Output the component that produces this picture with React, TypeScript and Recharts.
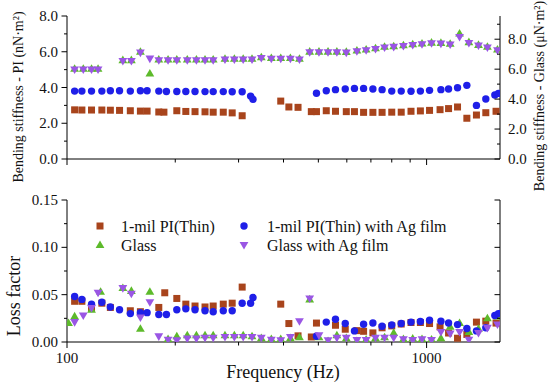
import React from "react";
import { ScatterChart, Scatter, XAxis, YAxis, Legend } from "recharts";

const SERIF = "'Liberation Serif', 'Times New Roman', Times, serif";

const C_PI = "#a8441c";
const C_PI_AG = "#1f1fe8";
const C_GLASS = "#5dba2b";
const C_GLASS_AG = "#9a56e4";

// axis ticks
const freqTicks = [100, 200, 300, 400, 500, 600, 700, 800, 900, 1000];
const piStiffTicks = [0, 1, 2, 3, 4, 5, 6, 7, 8];
const glassStiffTicks = [0, 1, 2, 3, 4, 5, 6, 7, 8, 9];
const lossTicks = [0, 0.025, 0.05, 0.075, 0.1, 0.125, 0.15];

// 1-mil PI(Thin)
const piStiffFreq = [105, 110, 117, 125, 132, 140, 150, 160, 167, 180, 186, 202, 214, 227, 242, 255, 272, 288, 307, 393, 414, 439, 478, 494, 526, 558, 598, 630, 668, 709, 752, 800, 850, 905, 961, 1019, 1090, 1151, 1219, 1294, 1376, 1461, 1560];
const piStiff = [2.75, 2.74, 2.74, 2.74, 2.73, 2.72, 2.70, 2.68, 2.68, 2.63, 2.62, 2.70, 2.66, 2.65, 2.64, 2.62, 2.62, 2.58, 2.42, 3.24, 2.91, 2.89, 2.65, 2.65, 2.70, 2.67, 2.65, 2.65, 2.61, 2.61, 2.61, 2.62, 2.62, 2.67, 2.69, 2.72, 2.76, 2.82, 2.91, 2.28, 2.46, 2.59, 2.67];
const piLossFreq = [105, 110, 117, 125, 132, 150, 160, 180, 187, 202, 214, 227, 242, 255, 272, 288, 307, 393, 414, 439, 478, 494, 558, 594, 640, 668, 709, 752, 800, 850, 905, 961, 1019, 1090, 1151, 1219, 1294, 1376, 1461, 1560];
const piLoss = [0.043, 0.043, 0.036, 0.041, 0.0365, 0.033, 0.032, 0.0365, 0.052, 0.046, 0.040, 0.038, 0.037, 0.038, 0.040, 0.041, 0.058, 0.040, 0.0195, 0.0065, 0.0053, 0.020, 0.0177, 0.0135, 0.012, 0.0113, 0.0096, 0.015, 0.017, 0.019, 0.0206, 0.0206, 0.0195, 0.016, 0.0095, 0.004, 0.008, 0.021, 0.022, 0.020];

// 1-mil PI(Thin) with Ag film
const piAgFreq = [105, 110, 117, 125, 132, 140, 150, 160, 167, 180, 189, 202, 214, 227, 242, 255, 272, 288, 307, 324, 329, 494, 526, 558, 594, 630, 668, 709, 752, 800, 850, 905, 961, 1019, 1096, 1151, 1219, 1294, 1376, 1461, 1548, 1584];
const piAgStiff = [3.80, 3.80, 3.80, 3.80, 3.82, 3.82, 3.80, 3.82, 3.82, 3.80, 3.78, 3.78, 3.78, 3.78, 3.77, 3.77, 3.77, 3.76, 3.76, 3.52, 3.34, 3.68, 3.82, 3.88, 3.92, 3.95, 3.95, 3.92, 3.88, 3.80, 3.80, 3.79, 3.80, 3.84, 3.88, 3.92, 3.99, 4.12, 3.00, 3.36, 3.58, 3.67];
const piAgLoss = [0.048, 0.045, 0.040, 0.042, 0.037, 0.034, 0.030, 0.031, 0.031, 0.029, 0.029, 0.034, 0.035, 0.034, 0.033, 0.032, 0.033, 0.033, 0.041, 0.041, 0.047, 0.006, 0.021, 0.024, 0.0195, 0.0117, 0.0188, 0.020, 0.0167, 0.018, 0.0195, 0.021, 0.0216, 0.023, 0.022, 0.020, 0.0184, 0.0142, 0.0117, 0.015, 0.028, 0.030];

// Glass and Glass with Ag film
const glassFreq = [105, 111, 117, 122, 143, 151, 160, 170, 180, 191, 202, 216, 229, 242, 255, 275, 292, 309, 327, 347, 370, 393, 418, 443, 473, 502, 532, 563, 598, 640, 679, 721, 764, 810, 862, 915, 971, 1032, 1096, 1163, 1235, 1311, 1394, 1476, 1574];
const glassStiff = [6.02, 6.02, 6.02, 6.02, 6.60, 6.60, 7.16, 5.71, 6.64, 6.64, 6.64, 6.64, 6.64, 6.64, 6.64, 6.69, 6.69, 6.69, 6.69, 6.79, 6.74, 6.74, 6.74, 6.69, 7.17, 7.17, 7.17, 7.17, 7.15, 7.24, 7.31, 7.39, 7.49, 7.53, 7.59, 7.66, 7.71, 7.77, 7.75, 7.69, 8.38, 7.80, 7.62, 7.49, 7.31];
const glassAgStiff = [5.98, 5.98, 5.98, 5.98, 6.55, 6.55, 7.11, 6.71, 6.60, 6.60, 6.60, 6.60, 6.60, 6.60, 6.60, 6.65, 6.65, 6.65, 6.65, 6.75, 6.70, 6.70, 6.70, 6.65, 7.13, 7.13, 7.13, 7.13, 7.11, 7.20, 7.27, 7.35, 7.45, 7.49, 7.55, 7.62, 7.67, 7.73, 7.71, 7.65, 8.15, 7.75, 7.58, 7.45, 7.27];
const glassAgLoss = [0.021, 0.028, 0.036, 0.052, 0.057, 0.051, 0.026, 0.042, 0.006, 0.0025, 0.0018, 0.0036, 0.0036, 0.0045, 0.0045, 0.0053, 0.0053, 0.0053, 0.0053, 0.0045, 0.0025, 0.0018, 0.0053, 0.022, 0.046, 0.007, 0.0018, 0.0045, 0.0046, 0.002, 0.002, 0.0046, 0.0046, 0.0046, 0.003, 0.002, 0.003, 0.002, 0.0106, 0.0089, 0.0106, 0.0025, 0.0096, 0.015, 0.0185];
const glassLossFreq = [101, 105, 117, 124, 143, 151, 160, 170, 191, 202, 216, 229, 242, 255, 275, 292, 309, 327, 347, 370, 393, 418, 443, 473, 502, 532, 563, 598, 640, 679, 721, 764, 810, 862, 915, 971, 1032, 1096, 1163, 1235, 1311, 1394, 1476, 1574];
const glassLoss = [0.020, 0.027, 0.034, 0.053, 0.057, 0.054, 0.014, 0.053, 0.003, 0.006, 0.007, 0.007, 0.007, 0.007, 0.007, 0.007, 0.007, 0.006, 0.004, 0.003, 0.003, 0.004, 0.005, 0.045, 0.005, 0.001, 0.007, 0.004, 0.001, 0.0025, 0.004, 0.005, 0.0096, 0.003, 0.0036, 0.003, 0.0025, 0.004, 0.016, 0.020, 0.0106, 0.014, 0.025, 0.027];

const pts = (f: number[], v: number[]) => f.map((x, i) => ({ f: x, v: v[i] }));

const square = (color: string) => (p: any) =>
  p.cx == null ? <g /> : <rect x={p.cx - 3.5} y={p.cy - 3.5} width={7} height={7} fill={color} />;
const circle = (color: string) => (p: any) =>
  p.cx == null ? <g /> : <circle cx={p.cx} cy={p.cy} r={3.7} fill={color} />;
const triUp = (color: string) => (p: any) =>
  p.cx == null ? <g /> : (
    <polygon points={`${p.cx},${p.cy - 4.6} ${p.cx - 4.4},${p.cy + 3} ${p.cx + 4.4},${p.cy + 3}`} fill={color} />
  );
const triDown = (color: string) => (p: any) =>
  p.cx == null ? <g /> : (
    <polygon points={`${p.cx},${p.cy + 4.6} ${p.cx - 4.4},${p.cy - 3} ${p.cx + 4.4},${p.cy - 3}`} fill={color} />
  );

function XTick(props: any) {
  const { x, y, payload, dir, label } = props;
  const major = payload.value === 100 || payload.value === 1000;
  const len = major ? 6 : 3.5;
  return (
    <g>
      <line x1={x} x2={x} y1={y} y2={y + dir * len} stroke="#000" strokeWidth={1} />
      {label && major && (
        <text x={x} y={y + 21} textAnchor="middle" fontFamily={SERIF} fontSize={15} fill="#111">
          {payload.value}
        </text>
      )}
    </g>
  );
}

function YTick(props: any) {
  const { x, y, payload, index, side, inward, digits } = props;
  const major = index % 2 === 0;
  const len = major ? 5.5 : 3;
  const d = side === "left" ? (inward ? 1 : -1) : inward ? -1 : 1;
  return (
    <g>
      <line x1={x} x2={x + d * len} y1={y} y2={y} stroke="#000" strokeWidth={1} />
      {digits != null && major && (
        <text
          x={side === "left" ? x - 9 : x + 8}
          y={y + 5}
          textAnchor={side === "left" ? "end" : "start"}
          fontFamily={SERIF}
          fontSize={15}
          fill="#111"
        >
          {payload.value.toFixed(digits)}
        </text>
      )}
    </g>
  );
}

const legendItems = [
  { name: "1-mil PI(Thin)", shape: "square", color: C_PI, mx: 100, tx: 121, row: 0 },
  { name: "1-mil PI(Thin) with Ag film", shape: "circle", color: C_PI_AG, mx: 244, tx: 267, row: 0 },
  { name: "Glass", shape: "up", color: C_GLASS, mx: 100, tx: 121, row: 1 },
  { name: "Glass with Ag film", shape: "down", color: C_GLASS_AG, mx: 244, tx: 267, row: 1 },
];

function LegendMarker({ shape, color }: { shape: string; color: string }) {
  return (
    <svg width={12} height={12} style={{ position: "absolute", left: -6, top: -6 }}>
      {shape === "square" && <rect x={2.5} y={2.5} width={7} height={7} fill={color} />}
      {shape === "circle" && <circle cx={6} cy={6} r={3.7} fill={color} />}
      {shape === "up" && <polygon points="6,1.4 1.6,9 10.4,9" fill={color} />}
      {shape === "down" && <polygon points="6,10.6 1.6,3 10.4,3" fill={color} />}
    </svg>
  );
}

function renderLegend() {
  return (
    <div style={{ position: "relative", width: 550, height: 1 }}>
      {legendItems.map((it) => {
        const cy = it.row === 0 ? 226 : 245;
        return (
          <React.Fragment key={it.name}>
            <div style={{ position: "absolute", left: it.mx, top: cy }}>
              <LegendMarker shape={it.shape} color={it.color} />
            </div>
            <div
              style={{
                position: "absolute",
                left: it.tx,
                top: cy - 7,
                fontFamily: SERIF,
                fontSize: 16,
                lineHeight: "16px",
                color: "#111",
                whiteSpace: "nowrap",
              }}
            >
              {it.name}
            </div>
          </React.Fragment>
        );
      })}
    </div>
  );
}

const titleBase: React.CSSProperties = {
  position: "absolute",
  fontFamily: SERIF,
  color: "#111",
  whiteSpace: "nowrap",
  lineHeight: 1,
};

export default function App() {
  const xDomain: [number, number] = [100, 1600];
  return (
    <div style={{ position: "absolute", left: 0, top: 0, width: 550, height: 390, background: "#fff", overflow: "hidden" }}>
      {/* top panel: bending stiffness */}
      <div style={{ position: "absolute", left: 0, top: 0 }}>
        <ScatterChart width={550} height={390} margin={{ top: 16, right: 0, bottom: 221, left: 0 }}>
          <XAxis
            xAxisId="b"
            dataKey="f"
            type="number"
            scale="log"
            domain={xDomain}
            allowDataOverflow
            ticks={freqTicks}
            interval={0}
            height={10}
            tickSize={0}
            tickMargin={0}
            tickLine={false}
            axisLine={{ stroke: "#000" }}
            tick={(p: any) => <XTick {...p} dir={1} label={false} />}
          />
          <XAxis
            xAxisId="t"
            orientation="top"
            type="number"
            scale="log"
            domain={xDomain}
            allowDataOverflow
            ticks={freqTicks}
            interval={0}
            height={0}
            tickSize={0}
            tickMargin={0}
            tickLine={false}
            axisLine={{ stroke: "#000" }}
            tick={(p: any) => <XTick {...p} dir={1} label={false} />}
          />
          <YAxis
            yAxisId="l"
            dataKey="v"
            type="number"
            domain={[0, 8]}
            allowDataOverflow
            ticks={piStiffTicks}
            interval={0}
            width={67}
            tickSize={0}
            tickMargin={0}
            tickLine={false}
            axisLine={{ stroke: "#000" }}
            tick={(p: any) => <YTick {...p} side="left" inward={false} digits={1} />}
          />
          <YAxis
            yAxisId="r"
            orientation="right"
            dataKey="v"
            type="number"
            domain={[0, 9.55]}
            allowDataOverflow
            ticks={glassStiffTicks}
            interval={0}
            width={50}
            tickSize={0}
            tickMargin={0}
            tickLine={false}
            axisLine={{ stroke: "#000" }}
            tick={(p: any) => <YTick {...p} side="right" inward digits={1} />}
          />
          <Scatter data={pts(piStiffFreq, piStiff)} xAxisId="b" yAxisId="l" shape={square(C_PI)} isAnimationActive={false} />
          <Scatter data={pts(glassFreq, glassStiff)} xAxisId="b" yAxisId="r" shape={triUp(C_GLASS)} isAnimationActive={false} />
          <Scatter data={pts(piAgFreq, piAgStiff)} xAxisId="b" yAxisId="l" shape={circle(C_PI_AG)} isAnimationActive={false} />
          <Scatter data={pts(glassFreq, glassAgStiff)} xAxisId="b" yAxisId="r" shape={triDown(C_GLASS_AG)} isAnimationActive={false} />
        </ScatterChart>
      </div>

      {/* bottom panel: loss factor */}
      <div style={{ position: "absolute", left: 0, top: 0 }}>
        <ScatterChart width={550} height={390} margin={{ top: 200, right: 0, bottom: 18, left: 0 }}>
          <XAxis
            xAxisId="b"
            dataKey="f"
            type="number"
            scale="log"
            domain={xDomain}
            allowDataOverflow
            ticks={freqTicks}
            interval={0}
            height={30}
            tickSize={0}
            tickMargin={0}
            tickLine={false}
            axisLine={{ stroke: "#000" }}
            tick={(p: any) => <XTick {...p} dir={1} label />}
          />
          <XAxis
            xAxisId="t"
            orientation="top"
            type="number"
            scale="log"
            domain={xDomain}
            allowDataOverflow
            height={0}
            tick={false}
            tickLine={false}
            axisLine={{ stroke: "#000" }}
          />
          <YAxis
            yAxisId="l"
            dataKey="v"
            type="number"
            domain={[0, 0.15]}
            allowDataOverflow
            ticks={lossTicks}
            interval={0}
            width={67}
            tickSize={0}
            tickMargin={0}
            tickLine={false}
            axisLine={{ stroke: "#000" }}
            tick={(p: any) => <YTick {...p} side="left" inward={false} digits={2} />}
          />
          <YAxis
            yAxisId="r"
            orientation="right"
            type="number"
            domain={[0, 0.15]}
            allowDataOverflow
            ticks={lossTicks}
            interval={0}
            width={50}
            tickSize={0}
            tickMargin={0}
            tickLine={false}
            axisLine={{ stroke: "#000" }}
            tick={(p: any) => <YTick {...p} side="right" inward />}
          />
          <Legend
            layout="horizontal"
            verticalAlign="middle"
            align="center"
            wrapperStyle={{ left: 0, top: 0, width: 550 }}
            content={renderLegend}
          />
          <Scatter data={pts(piLossFreq, piLoss)} xAxisId="b" yAxisId="l" shape={square(C_PI)} isAnimationActive={false} />
          <Scatter data={pts(glassLossFreq, glassLoss)} xAxisId="b" yAxisId="l" shape={triUp(C_GLASS)} isAnimationActive={false} />
          <Scatter data={pts(piAgFreq, piAgLoss)} xAxisId="b" yAxisId="l" shape={circle(C_PI_AG)} isAnimationActive={false} />
          <Scatter data={pts(glassFreq, glassAgLoss)} xAxisId="b" yAxisId="l" shape={triDown(C_GLASS_AG)} isAnimationActive={false} />
        </ScatterChart>
      </div>

      {/* axis titles */}
      <div style={{ ...titleBase, left: 19, top: 97, fontSize: 14, transform: "translate(-50%, -50%) rotate(-90deg)" }}>
        Bending stiffness - PI (nN·m²)
      </div>
      <div style={{ ...titleBase, left: 540, top: 96, fontSize: 14, transform: "translate(-50%, -50%) rotate(-90deg)" }}>
        Bending stiffness - Glass (μN·m²)
      </div>
      <div style={{ ...titleBase, left: 14, top: 296, fontSize: 18, transform: "translate(-50%, -50%) rotate(-90deg)" }}>
        Loss factor
      </div>
      <div style={{ ...titleBase, left: 283, top: 363, fontSize: 18, transform: "translateX(-50%)" }}>
        Frequency (Hz)
      </div>
    </div>
  );
}
